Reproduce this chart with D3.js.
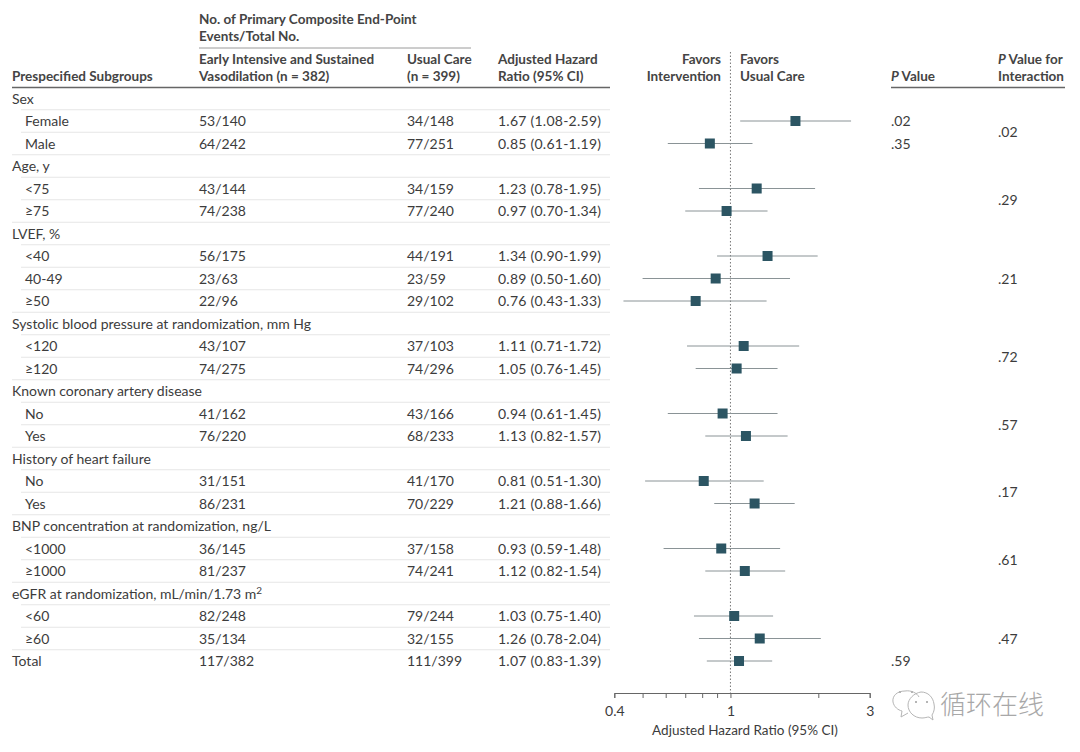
<!DOCTYPE html>
<html>
<head>
<meta charset="utf-8">
<script src="https://cdn.jsdelivr.net/npm/d3@7"></script>
<style>
  html, body { margin: 0; background: #fff; }
  svg { display: block; }
  text { font-family: Lato, "Noto Sans", sans-serif; font-size: 14px; fill: #3c3c3c; }
  .hd { font-weight: bold; fill: #444; font-size: 13.5px; }
  .ratio { letter-spacing: 0.25px; }
  .wm { font-family: "Noto Sans CJK SC"; font-size: 26px; fill: #a8a8a8; font-weight: 300; }
</style>
</head>
<body>
<svg id="chart" width="1080" height="752"></svg>
<script>
// table rows, top to bottom. '' in early means a group heading
const labels = ['Sex','Female','Male','Age, y','<75','≥75','LVEF, %','<40','40-49','≥50',
  'Systolic blood pressure at randomization, mm Hg','<120','≥120','Known coronary artery disease','No','Yes',
  'History of heart failure','No','Yes','BNP concentration at randomization, ng/L','<1000','≥1000',
  'eGFR at randomization, mL/min/1.73 m','<60','≥60','Total'];
const early = ['','53/140','64/242','','43/144','74/238','','56/175','23/63','22/96',
  '','43/107','74/275','','41/162','76/220','','31/151','86/231','','36/145','81/237','','82/248','35/134','117/382'];
const usual = ['','34/148','77/251','','34/159','77/240','','44/191','23/59','29/102',
  '','37/103','74/296','','43/166','68/233','','41/170','70/229','','37/158','74/241','','79/244','32/155','111/399'];
const hr = [null,1.67,0.85,null,1.23,0.97,null,1.34,0.89,0.76,null,1.11,1.05,null,0.94,1.13,null,0.81,1.21,null,0.93,1.12,null,1.03,1.26,1.07];
const lo = [null,1.08,0.61,null,0.78,0.70,null,0.90,0.50,0.43,null,0.71,0.76,null,0.61,0.82,null,0.51,0.88,null,0.59,0.82,null,0.75,0.78,0.83];
const hi = [null,2.59,1.19,null,1.95,1.34,null,1.99,1.60,1.33,null,1.72,1.45,null,1.45,1.57,null,1.30,1.66,null,1.48,1.54,null,1.40,2.04,1.39];
const pValues = ['','.02','.35','','','','','','','','','','','','','','','','','','','','','','','.59'];
// interaction P, with the rows it sits between
const pInteraction = ['.02','.29','.21','.72','.57','.17','.61','.47'];
const pInteractionRows = [[1,2],[4,5],[7,9],[11,12],[14,15],[17,18],[20,21],[24,24]];
const axisTicks = [0.4,0.5,0.6,0.7,0.8,0.9,1,2,3];
const axisLabelled = [0.4,1,3];

const svg = d3.select('#chart');
const fmt = d3.format('.2f');

const col = { label: 12, sub: 25, early: 199, usual: 407, ratio: 498, p: 891, pInt: 998, right: 610 };

const y = d3.scaleLinear().domain([0, labels.length - 1]).range([98.5, 661]);
const x = d3.scaleLog().domain([0.4, 3]).range([614.3, 869.7]);
const axisY = 693;

const isHead = (i) => early[i] === '';

// header
function head(xPos, yPos, str, anchor) {
  return svg.append('text').attr('class','hd').attr('x',xPos).attr('y',yPos).attr('text-anchor',anchor||'start').text(str);
}
head(col.early, 24, 'No. of Primary Composite End-Point');
head(col.early, 41, 'Events/Total No.');
head(col.early, 64, 'Early Intensive and Sustained');
head(col.early, 81, 'Vasodilation (n = 382)');
head(col.usual, 64, 'Usual Care');
head(col.usual, 81, '(n = 399)');
head(col.ratio, 64, 'Adjusted Hazard');
head(col.ratio, 81, 'Ratio (95% CI)');
head(col.label, 81, 'Prespecified Subgroups');
head(721, 64, 'Favors', 'end');
head(721, 81, 'Intervention', 'end');
head(740, 64, 'Favors');
head(740, 81, 'Usual Care');
const pHead = head(col.p, 81, '');
pHead.append('tspan').attr('font-style','italic').text('P');
pHead.append('tspan').text(' Value');
const pHead2 = head(col.pInt, 64, '');
pHead2.append('tspan').attr('font-style','italic').text('P');
pHead2.append('tspan').text(' Value for');
head(col.pInt, 81, 'Interaction');

// header rules
const rule = (x1, x2, yPos, color, w) => svg.append('line')
  .attr('x1',x1).attr('x2',x2).attr('y1',yPos).attr('y2',yPos)
  .attr('stroke',color).attr('stroke-width',w);
rule(col.early, 471, 48, '#9a9a9a', 1);
rule(col.label, col.right, 87.5, '#666', 1.4);
rule(col.p, 1065, 87.5, '#666', 1.4);

// row separators
labels.forEach((d, i) => {
  if (i === labels.length - 1) return;
  const next = isHead(i + 1) || i + 1 === labels.length - 1;
  rule(next ? col.label : 21, col.right, y(i + 0.5), '#e6e6e6', 1);
});

// table text
const rows = svg.append('g').selectAll('g').data(labels).join('g')
  .attr('transform', (d, i) => `translate(0,${y(i)})`);

rows.append('text')
  .attr('x', (d, i) => (isHead(i) || i === labels.length - 1) ? col.label : col.sub)
  .attr('dy', 5)
  .each(function (d) {
    const t = d3.select(this).text(d);
    if (d.startsWith('eGFR')) {
      t.append('tspan').attr('dy', -5).style('font-size', '10px').text('2');
    }
  });
rows.append('text').attr('x', col.early).attr('dy', 5).text((d, i) => early[i]);
rows.append('text').attr('x', col.usual).attr('dy', 5).text((d, i) => usual[i]);
rows.append('text').attr('class','ratio').attr('x', col.ratio).attr('dy', 5)
  .text((d, i) => hr[i] === null ? '' : `${fmt(hr[i])} (${fmt(lo[i])}-${fmt(hi[i])})`);
rows.append('text').attr('x', col.p).attr('dy', 5).text((d, i) => pValues[i]);

svg.append('g').selectAll('text').data(pInteraction).join('text')
  .attr('x', col.pInt)
  .attr('y', (d, i) => y(d3.mean(pInteractionRows[i])) + 5)
  .text((d) => d);

// reference line
svg.append('line').attr('x1',x(1)).attr('x2',x(1)).attr('y1',52).attr('y2',axisY)
  .attr('stroke','#777').attr('stroke-width',1).attr('stroke-dasharray','1.5 2');

// forest marks
const idx = d3.range(labels.length).filter((i) => hr[i] !== null);
svg.append('g').selectAll('line').data(idx).join('line')
  .attr('x1', (i) => x(lo[i])).attr('x2', (i) => x(hi[i]))
  .attr('y1', (i) => y(i)).attr('y2', (i) => y(i))
  .attr('stroke', '#8a9396').attr('stroke-width', 1);
svg.append('g').selectAll('rect').data(idx).join('rect')
  .attr('x', (i) => x(hr[i]) - 5).attr('y', (i) => y(i) - 5)
  .attr('width', 10).attr('height', 10)
  .attr('fill', '#2c5563');

// axis
const axis = d3.axisBottom(x).tickValues(axisTicks).tickSizeOuter(0).tickSize(5)
  .tickFormat((d) => axisLabelled.includes(d) ? d : '');
const axisG = svg.append('g').attr('transform', `translate(0,${axisY})`).call(axis);
axisG.select('.domain').attr('stroke', '#666');
axisG.selectAll('.tick line').attr('stroke', '#666');
axisG.selectAll('.tick text').attr('dy', 15)
  .style('font-family','Lato, sans-serif').style('font-size','14px').attr('fill','#3c3c3c');
svg.append('text').attr('x', 745).attr('y', 735).attr('text-anchor','middle').style('font-size','13.5px').text('Adjusted Hazard Ratio (95% CI)');

// watermark
const wm = svg.append('g').attr('fill','none').attr('stroke','#b5b5b5').attr('stroke-width',1);
wm.append('path').attr('d','M905 691 C897 691 892 696 893 702 C894 707 898 710 902 711 L901 717 L908 713');
wm.append('path').attr('d','M905 691 C911 690 917 693 919 697');
wm.append('path').attr('d','M921 692 C914 693 908 699 908 705 C908 712 914 718 922 718 C925 718 927 717 929 717 L933 720 L932 715 C934 712 935 708 934 704 C933 697 928 692 921 692 Z');
const wmDots = wm.append('g').attr('fill','#b5b5b5').attr('stroke','none');
wmDots.append('rect').attr('x',899).attr('y',691).attr('width',2).attr('height',2);
wmDots.append('rect').attr('x',911).attr('y',691).attr('width',2).attr('height',2);
wmDots.append('rect').attr('x',915).attr('y',701).attr('width',2).attr('height',2);
wmDots.append('rect').attr('x',926).attr('y',701).attr('width',2).attr('height',2);
svg.append('text').attr('class','wm').attr('x', 940).attr('y', 714).text('循环在线');
</script>
</body>
</html>
